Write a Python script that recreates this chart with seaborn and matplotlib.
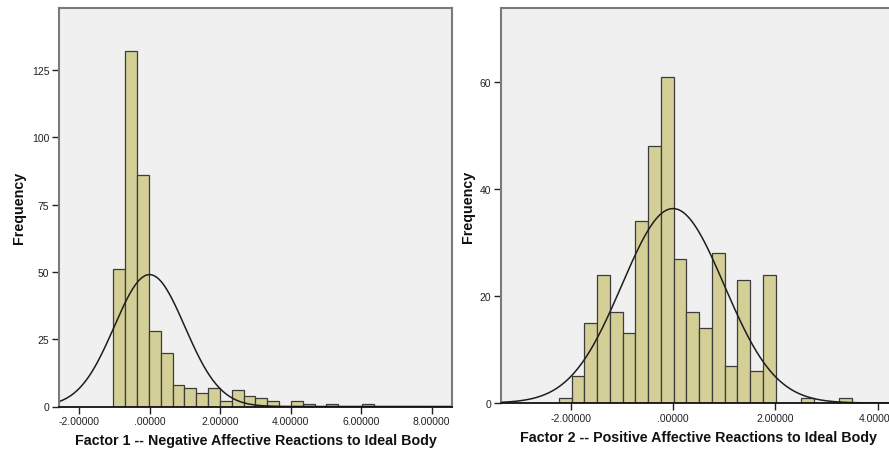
import numpy as np
import pandas as pd
import matplotlib
matplotlib.use("Agg")
import matplotlib.pyplot as plt
import seaborn as sns
from matplotlib.ticker import FuncFormatter

# ---------------- data ----------------
f1_counts = [51, 132, 86, 28, 20, 8, 7, 5, 7, 2, 6, 4, 3, 2, 0, 2, 1, 0, 1, 0, 0, 1]
f1_bin_start = -1.024
f1_bin_width = 0.3355
f1_label = "Factor 1 -- Negative Affective Reactions to Ideal Body"
f1_yticks = [0, 25, 50, 75, 100, 125]
f1_xticks = [-2, 0, 2, 4, 6, 8]

f2_counts = [1, 5, 15, 24, 17, 13, 34, 48, 61, 27, 17, 14, 28, 7, 23, 6, 24, 0, 0, 1, 0, 0, 1]
f2_bin_start = -2.228
f2_bin_width = 0.249
f2_label = "Factor 2 -- Positive Affective Reactions to Ideal Body"
f2_yticks = [0, 20, 40, 60]
f2_xticks = [-2, 0, 2, 4]

score_mean = 0.0
score_sd = 1.0

# ---------------- style ----------------
sns.set_theme(style="white")
plt.rcParams["font.family"] = ["Liberation Sans", "DejaVu Sans"]

BAR = "#d4cf96"
EDGE = "#3c3c3c"
BG = "#f0f0f0"
SPINE = "#7a7a7a"

fig = plt.figure(figsize=(8.89, 4.52), dpi=100)
ax1 = fig.add_axes([59 / 889, 1 - 407.5 / 452, (452 - 59) / 889, (407.5 - 9) / 452])
ax2 = fig.add_axes([501 / 889, 1 - 404 / 452, (930 - 501) / 889, (404 - 9.3) / 452])


def fmt(v, pos):
    s = f"{v:.5f}"
    if s.startswith("0."):
        s = s[1:]
    elif s.startswith("-0."):
        s = "-" + s[2:]
    return s


def draw(ax, counts, start, width, xlim, ylim, yticks, xticks, label, ylabelpad):
    counts = np.asarray(counts, dtype=float)
    n = len(counts)
    centers = start + width * (np.arange(n) + 0.5)
    df = pd.DataFrame({"x": centers, "w": counts})
    sns.histplot(data=df, x="x", weights="w", binwidth=width,
                 binrange=(start, start + width * n), ax=ax,
                 color=BAR, edgecolor=EDGE, linewidth=0.9, alpha=1.0)
    total = counts.sum()
    xs = np.linspace(xlim[0], xlim[1], 400)
    ys = total * width / (np.sqrt(2 * np.pi) * score_sd) * np.exp(-0.5 * ((xs - score_mean) / score_sd) ** 2)
    sns.lineplot(x=xs, y=ys, ax=ax, color="#1e1e1e", linewidth=1.1)
    ax.set_facecolor(BG)
    ax.set_xlim(*xlim)
    ax.set_ylim(*ylim)
    ax.set_yticks(yticks)
    ax.set_xticks(xticks)
    ax.xaxis.set_major_formatter(FuncFormatter(fmt))
    ax.tick_params(axis="both", which="major", direction="out", length=5,
                   width=1, color="#222222", labelsize=7.5, labelcolor="#222222", pad=2,
                   bottom=True, left=True)
    ax.set_xlabel(label, fontsize=10.3, fontweight="bold", color="#111111", labelpad=5)
    ax.set_ylabel("Frequency", fontsize=10.3, fontweight="bold", color="#111111", labelpad=ylabelpad)
    for s in ["top", "left", "right"]:
        ax.spines[s].set_color(SPINE)
        ax.spines[s].set_linewidth(1.5)
        ax.spines[s].set_visible(True)
    ax.spines["bottom"].set_color("#111111")
    ax.spines["bottom"].set_linewidth(1.3)
    ax.spines["bottom"].set_visible(True)
    ax.grid(False)


draw(ax1, f1_counts, f1_bin_start, f1_bin_width, (-2.567, 8.576), (0, 148.0),
     f1_yticks, f1_xticks, f1_label, 4.5)
draw(ax2, f2_counts, f2_bin_start, f2_bin_width, (-3.36, 5.02), (0, 73.8),
     f2_yticks, f2_xticks, f2_label, 3.5)
ax2.xaxis.label.set_x((698 - 501) / (930 - 501))

fig.savefig("out.png", dpi=100, facecolor="white")
